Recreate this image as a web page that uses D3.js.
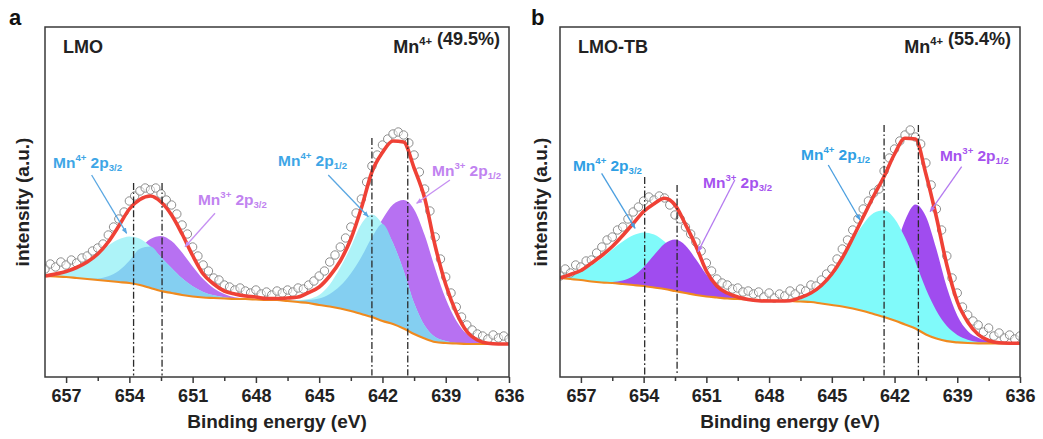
<!DOCTYPE html>
<html><head><meta charset="utf-8">
<script src="https://cdn.jsdelivr.net/npm/d3@7"></script>
<style>
html,body{margin:0;padding:0;background:#fff;}
svg{display:block;font-family:"Liberation Sans",Arial,Helvetica,sans-serif;}
</style></head><body>
<svg id="chart" width="1043" height="439"></svg>
<script>
// ---------- data (binding energy in eV, intensity in a.u.) ----------
const energy = [658,657.5,657,656.5,656,655.5,655,654.5,654,653.5,653,652.5,652,651.5,651,650.5,650,649.5,649,648.5,648,647.5,647,646.5,646,645.5,645,644.5,644,643.5,643,642.5,642,641.5,641,640.5,640,639.5,639,638.5,638,637.5,637,636.5,636];
const rawEnergy = [658,657.75,657.5,657.25,657,656.75,656.5,656.25,656,655.75,655.5,655.25,655,654.75,654.5,654.25,654,653.75,653.5,653.25,653,652.75,652.5,652.25,652,651.75,651.5,651.25,651,650.75,650.5,650.25,650,649.75,649.5,649.25,649,648.75,648.5,648.25,648,647.75,647.5,647.25,647,646.75,646.5,646.25,646,645.75,645.5,645.25,645,644.75,644.5,644.25,644,643.75,643.5,643.25,643,642.75,642.5,642.25,642,641.75,641.5,641.25,641,640.75,640.5,640.25,640,639.75,639.5,639.25,639,638.75,638.5,638.25,638,637.75,637.5,637.25,637,636.75,636.5,636.25,636];
const xTicks = [657,654,651,648,645,642,639,636];
const xMinorTicks = [655.5,652.5,649.5,646.5,643.5,640.5,637.5];

// LMO (panel a)
const baselineA = [101,100.5,100,99,98,97,96,95,94,92,89,86,84,82,80.5,79.5,79,78.5,78,78,77.5,77,77,76,75,74,72,70.5,68.5,66,63,60,56,53,48.5,43,38.5,35,34,33.5,33,33,33,33,33];
const mn4p32A = [1.5,3.2,6.4,11.3,18.3,26.7,35.5,42.7,46.6,46.2,41.5,33.8,25,16.7,10.2,5.6,2.8,1.3,0.5,0.2,0.1,0,0,0,0,0,0,0,0,0,0,0,0,0,0,0,0,0,0,0,0,0,0,0,0];
const mn3p32A = [0,0,0,0.1,0.5,1.6,4.7,11.2,22.2,36.3,49.1,55,51.9,42.4,30.1,18.5,9.8,4.5,1.8,0.6,0.2,0.1,0,0,0,0,0,0,0,0,0,0,0,0,0,0,0,0,0,0,0,0,0,0,0];
const mn4p12A = [0,0,0,0,0,0,0,0,0,0,0,0,0,0,0,0,0,0,0,0,0,0,0,0.6,1.8,4,10,22,41,64,90,102.5,97,81,58,31,13,5,2,0.6,0.2,0,0,0,0];
const mn3p12A = [0,0,0,0,0,0,0,0,0,0,0,0,0,0,0,0,0,0,0,0,0,0,0.2,0.5,1.3,3,6.4,12.6,22.7,37.6,57.1,79.6,101.8,119.4,128.4,124.6,103.5,73.2,44.2,22.7,9.9,3.7,1.2,0.3,0.1];
const fitA = [101,103,105.5,109.5,115,123,135,151,168,177.5,181,175,162,143,121.5,103,93,86,83,81,80,78.5,78.5,79,80,84.5,90,101,116,138,169,205,224.5,236,235,209,179,131,92.5,64.5,45.5,37,33.7,33,33];
const rawA = [108,113,110,115,112,117,114,119,121,126,129,133,142,150,158,165,176,181,186,189,187,189,183,177,172,163,152,143,130,121,112,106,99,97,92,90,87,89,86,84,87,83,85,82,86,84,87,85,89,88,92,96,101,106,115,122,130,139,150,164,178,195,211,222,232,238,243,245,242,234,222,205,188,166,140,118,100,84,70,60,52,47,43,41,38,42,39,41,38];
const peakLinesA = [653.8,652.45,642.5,640.8];

// LMO-TB (panel b)
const baselineB = [99,98,97,95.5,94.5,94,93,92,91,89.5,88,86,84,82,80.5,79.5,78.5,78,77.5,77,76.5,76,76,75.5,75,73.5,72,70.5,68.5,66,63,60,56.5,52.5,48.5,42.5,38.5,35.8,34.6,34,33.7,33.7,33.7,33.7,33.7];
const mn4p32B = [3,5.7,10,16.3,24.3,33.5,42.5,49.7,53.6,53.1,47.4,38.2,27.7,18.1,10.7,5.7,2.7,1.2,0.5,0.2,0.1,0,0,0,0,0,0,0,0,0,0,0,0,0,0,0,0,0,0,0,0,0,0,0,0];
const mn3p32B = [0,0,0,0,0.3,1.1,3.4,8.9,18.8,32.4,45.2,51.4,47.5,35.7,21.9,10.9,4.4,1.4,0.4,0.1,0,0,0,0,0,0,0,0,0,0,0,0,0,0,0,0,0,0,0,0,0,0,0,0,0];
const mn4p12B = [0,0,0,0,0,0,0,0,0,0,0,0,0,0,0,0,0,0,0,0,0,0.8,2.1,4.8,9.8,18.4,31.2,48.3,67.9,86.8,100.9,106.7,101.8,86.9,66.4,45.4,27.8,15.2,7.5,3.3,1.3,0.4,0.1,0,0];
const mn3p12B = [0,0,0,0,0,0,0,0,0,0,0,0,0,0,0,0,0,0,0,0,0,0,0,0,0,0,0,0.8,2.5,7,17,37,69,104,124,118,89.4,54,27,12,5.5,2,0.7,0.2,0.1];
const fitB = [99,102.5,106.5,113.7,121.5,130.5,141.5,153.5,165.5,173.3,178.7,172,152.6,131,106,91,84,80,77.5,76.3,76,76,76.3,79.5,84,91.5,103,119,139,160,181,200.5,223,238.7,238,203,160,112,75.5,55,42.5,36.5,34.2,33.8,33.7];
const rawB = [101,108,104,112,110,116,117,124,130,137,140,147,150,158,165,170,176,180,177,181,179,172,162,158,150,143,135,126,114,106,98,94,92,88,89,85,86,83,85,80,84,79,83,81,86,83,88,86,92,91,97,103,108,118,128,137,147,158,168,176,184,188,206,219,228,236,242,247,240,233,214,192,168,147,121,99,84,70,62,56,52,45,49,41,44,39,42,38,41];
const peakLinesB = [653.95,652.4,642.5,640.86];

// ---------- layout / style ----------
const svg = d3.select('#chart');
const Y0 = 377, Y1 = 27;
const FONT_W = 'bold';

const panels = [
  { letter:'a', letterX:9, sample:'LMO', pct:'(49.5%)', xr:[45,509], ylabX:29,
    base:baselineA, c1:mn4p32A, c2:mn3p32A, c3:mn4p12A, c4:mn3p12A, fit:fitA, raw:rawA,
    lines:peakLinesA, lineTops:[194,194,239,239], mode:'blend',
    cyan:'#adf3f8', purple:'#b771f2', overlap:'#84cff1',
    blueTxt:'#3ea6e6', purpleTxt:'#c183f0', blueArrow:'#5aa7e2', purpleArrow:'#c690f2',
    labels:[
      {ox:'4+', sub:'3/2', E:657.62, v:209, c:'b', from:[655.79,202], to:[654.13,143.7]},
      {ox:'3+', sub:'3/2', E:650.75, v:172, c:'p', from:[649.94,163.7], to:[651.36,130.3]},
      {ox:'4+', sub:'1/2', E:646.95, v:211, c:'b', from:[644.57,202], to:[642.67,160.3]},
      {ox:'3+', sub:'1/2', E:639.65, v:201, c:'p', from:[638.8,197], to:[640.38,173.7]}
    ]},
  { letter:'b', letterX:531, sample:'LMO-TB', pct:'(55.4%)', xr:[560,1020], ylabX:547,
    base:baselineB, c1:mn4p32B, c2:mn3p32B, c3:mn4p12B, c4:mn3p12B, fit:fitB, raw:rawB,
    lines:peakLinesB, lineTops:[200,192,252,252], mode:'opaque',
    cyan:'#80fafa', purple:'#a04cef', overlap:null,
    blueTxt:'#2f9fe4', purpleTxt:'#a553ee', blueArrow:'#4b9fe0', purpleArrow:'#b47af0',
    labels:[
      {ox:'4+', sub:'3/2', E:657.38, v:206.3, c:'b', from:[656.01,203.7], to:[654.41,148.7]},
      {ox:'3+', sub:'3/2', E:651.16, v:189.3, c:'p', from:[649.64,197], to:[651.4,125.3]},
      {ox:'4+', sub:'1/2', E:646.47, v:217, c:'b', from:[645.17,212], to:[643.65,157]},
      {ox:'3+', sub:'1/2', E:639.83, v:216, c:'p', from:[638.79,210.3], to:[640.3,165.3]}
    ]}
];

const y = d3.scaleLinear().domain([0,350]).range([Y0,Y1]);
const defs = svg.append('defs');

function marker(id, color){
  defs.append('marker').attr('id', id).attr('viewBox','0 0 10 10')
    .attr('refX',9).attr('refY',5).attr('markerWidth',6).attr('markerHeight',6)
    .attr('orient','auto').attr('markerUnits','userSpaceOnUse')
    .append('path').attr('d','M0,1 L10,5 L0,9 z').attr('fill', color);
}

function mnText(g, x, yy, ox, orbital, sub, color, fs, anchor){
  const t = g.append('text').attr('x', x).attr('y', yy).attr('fill', color)
    .attr('font-size', fs).attr('font-weight', FONT_W).attr('text-anchor', anchor || 'start');
  t.append('tspan').text('Mn');
  t.append('tspan').attr('font-size', fs*0.62).attr('dy', -fs*0.42).text(ox);
  t.append('tspan').attr('font-size', fs).attr('dy', fs*0.42).attr('dx', fs*0.27).text(orbital);
  if (sub) t.append('tspan').attr('font-size', fs*0.62).attr('dy', fs*0.22).text(sub);
  return t;
}

panels.forEach((p, pi) => {
  const x = d3.scaleLinear().domain([658,636]).range(p.xr);
  const g = svg.append('g');
  const clipId = 'clip' + pi;
  defs.append('clipPath').attr('id', clipId).append('rect')
    .attr('x', p.xr[0]).attr('y', Y1).attr('width', p.xr[1]-p.xr[0]).attr('height', Y0-Y1);
  const plot = g.append('g').attr('clip-path', `url(#${clipId})`);

  const area = comp => d3.area()
    .x((d,i) => x(energy[i]))
    .y0((d,i) => y(p.base[i]))
    .y1((d,i) => y(p.base[i] + comp[i]))
    .curve(d3.curveMonotoneX)(comp);
  const fill = (comp, color) => plot.append('path').attr('d', area(comp)).attr('fill', color);

  if (p.mode === 'blend') {
    fill(p.c2, p.purple); fill(p.c4, p.purple);
    fill(p.c1, p.cyan);   fill(p.c3, p.cyan);
    fill(p.c1.map((v,i) => Math.min(v, p.c2[i])), p.overlap);
    fill(p.c3.map((v,i) => Math.min(v, p.c4[i])), p.overlap);
  } else {
    fill(p.c1, p.cyan); fill(p.c2, p.purple);
    fill(p.c4, p.purple); fill(p.c3, p.cyan);
  }

  const line = d3.line().x((d,i) => x(energy[i])).y(d => y(d)).curve(d3.curveMonotoneX);
  plot.append('path').attr('d', line(p.base)).attr('fill','none')
    .attr('stroke','#f08a1e').attr('stroke-width',2.2);

  plot.append('g').selectAll('circle').data(p.raw).join('circle')
    .attr('cx', (d,i) => x(rawEnergy[i])).attr('cy', d => y(d)).attr('r', 4.2)
    .attr('fill','rgba(255,255,255,0.55)').attr('stroke','#8d8d8d').attr('stroke-width',1);

  plot.append('path').attr('d', line(p.fit)).attr('fill','none')
    .attr('stroke','#ef4136').attr('stroke-width',3.6).attr('stroke-linejoin','round');

  plot.append('g').selectAll('line').data(p.lines).join('line')
    .attr('x1', d => x(d)).attr('x2', d => x(d))
    .attr('y1', (d,i) => y(p.lineTops[i])).attr('y2', y(1.5))
    .attr('stroke','#2a2a2a').attr('stroke-width',1.3)
    .attr('stroke-dasharray','7,2.5,1.6,2.5');

  // annotations
  marker('arB'+pi, p.blueArrow); marker('arP'+pi, p.purpleArrow);
  p.labels.forEach(l => {
    const col = l.c === 'b' ? p.blueTxt : p.purpleTxt;
    g.append('line').attr('x1', x(l.from[0])).attr('y1', y(l.from[1]))
      .attr('x2', x(l.to[0])).attr('y2', y(l.to[1]))
      .attr('stroke', l.c === 'b' ? p.blueArrow : p.purpleArrow).attr('stroke-width',1.3)
      .attr('marker-end', `url(#${l.c === 'b' ? 'arB' : 'arP'}${pi})`);
    mnText(g, x(l.E), y(l.v), l.ox, '2p', l.sub, col, 15.5);
  });

  // frame
  g.append('rect').attr('x', p.xr[0]).attr('y', Y1).attr('width', p.xr[1]-p.xr[0])
    .attr('height', Y0-Y1).attr('fill','none').attr('stroke','#3a3a3a').attr('stroke-width',1.5);

  // axes
  const ax = g.append('g').attr('transform', `translate(0,${Y0})`)
    .call(d3.axisBottom(x).tickValues(xTicks).tickFormat(d3.format('d')).tickSize(6).tickPadding(6));
  ax.select('.domain').remove();
  ax.selectAll('line').attr('stroke','#3a3a3a').attr('stroke-width',1.5);
  ax.selectAll('text').attr('font-size',18).attr('font-weight',FONT_W).attr('fill','#222')
    .attr('font-family','"Liberation Sans",Arial,sans-serif');
  const axm = g.append('g').attr('transform', `translate(0,${Y0})`)
    .call(d3.axisBottom(x).tickValues(xMinorTicks).tickFormat('').tickSize(4));
  axm.select('.domain').remove();
  axm.selectAll('line').attr('stroke','#3a3a3a').attr('stroke-width',1.5);

  const cx = (p.xr[0] + p.xr[1]) / 2;
  g.append('text').attr('x', cx).attr('y', 428).attr('text-anchor','middle')
    .attr('font-size',19).attr('font-weight',FONT_W).attr('fill','#222').text('Binding energy (eV)');
  g.append('text').attr('transform', `translate(${p.ylabX},${(Y0+Y1)/2}) rotate(-90)`)
    .attr('text-anchor','middle').attr('font-size',19).attr('font-weight',FONT_W).attr('fill','#222')
    .text('intensity (a.u.)');

  g.append('text').attr('x', p.letterX).attr('y', 25).attr('font-size',22)
    .attr('font-weight',FONT_W).attr('fill','#111').text(p.letter);
  g.append('text').attr('x', p.xr[0] + 18).attr('y', 53).attr('font-size',18)
    .attr('font-weight',FONT_W).attr('fill','#222').text(p.sample);
  const tt = mnText(g, p.xr[1] - 9, 53, '4+', '', null, '#222', 18, 'end');
  tt.append('tspan').attr('dx', 5).text(p.pct);
});
</script>
</body></html>
